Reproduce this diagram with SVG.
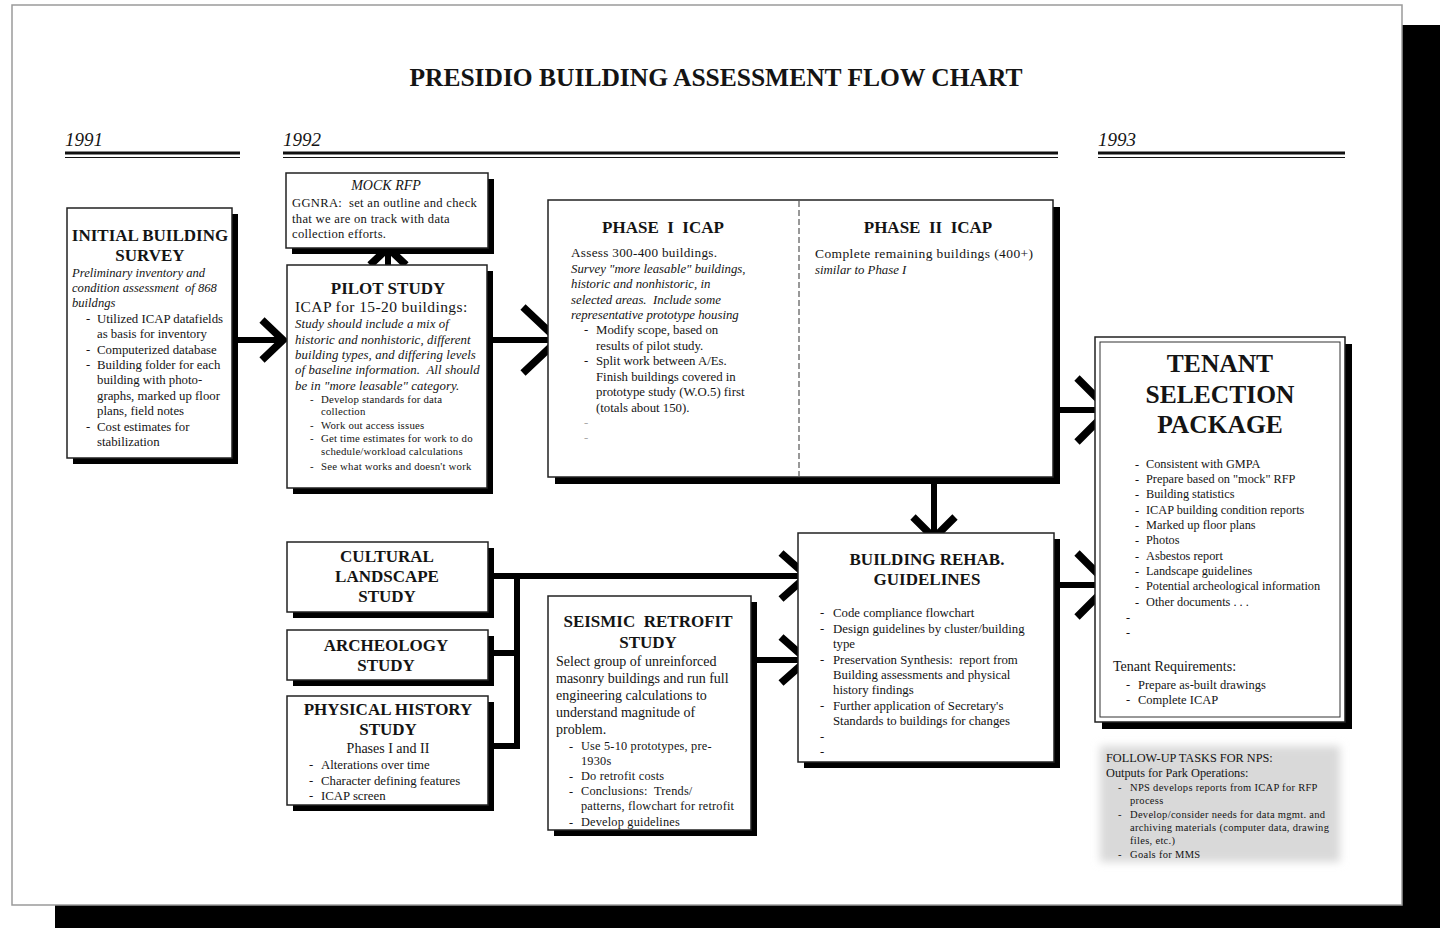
<svg xmlns="http://www.w3.org/2000/svg" width="1440" height="928" viewBox="0 0 1440 928">
<defs>
<style>
.t{font-family:"Liberation Serif","Times New Roman",serif;fill:#141414}
.b{font-weight:bold}
.i{font-style:italic}
.c{text-anchor:middle}
.sh{fill:#000}
.box{fill:#fff;stroke:#222;stroke-width:1.5}
.ln{fill:none;stroke:#000;stroke-width:6}
.chev{fill:none;stroke:#000;stroke-width:7.5;stroke-linejoin:miter;stroke-miterlimit:10}
.rule{stroke:#111}
.hd{font-size:17px;font-weight:bold}
.hs{font-size:17px;font-weight:bold}
</style>
<filter id="blur" x="-10%" y="-10%" width="120%" height="120%"><feGaussianBlur stdDeviation="4"/></filter>
</defs>
<rect x="0" y="0" width="1440" height="928" fill="#fff"/>
<rect x="55" y="25" width="1385" height="903" fill="#000"/>
<rect x="12" y="5" width="1390" height="900" fill="#fff" stroke="#9a9a9a" stroke-width="1.5"/>

<g id="title">
<text class="t b c" x="716" y="86" font-size="25.5">PRESIDIO BUILDING ASSESSMENT FLOW CHART</text>
</g>
<g id="timeline">
<text class="t i" x="65" y="146" font-size="19">1991</text>
<line class="rule" x1="65" y1="153" x2="240" y2="153" stroke-width="3"/>
<line class="rule" x1="65" y1="157.5" x2="240" y2="157.5" stroke-width="1"/>
<text class="t i" x="283" y="146" font-size="19">1992</text>
<line class="rule" x1="283" y1="153" x2="1058" y2="153" stroke-width="3"/>
<line class="rule" x1="283" y1="157.5" x2="1058" y2="157.5" stroke-width="1"/>
<text class="t i" x="1098" y="146" font-size="19">1993</text>
<line class="rule" x1="1098" y1="153" x2="1345" y2="153" stroke-width="3"/>
<line class="rule" x1="1098" y1="157.5" x2="1345" y2="157.5" stroke-width="1"/>
</g>

<g id="connectors">
<line class="ln" x1="222" y1="340" x2="282" y2="340"/>
<polyline class="chev" points="262,320 283,340 262,360"/>
<line class="ln" x1="478" y1="340" x2="556" y2="340" stroke-width="7"/>
<polyline class="chev" points="523,307 558,340 523,373" stroke-width="9"/>
<line class="ln" x1="388" y1="272" x2="388" y2="251"/>
<polyline class="chev" points="370,265 388,248 406,265"/>
<line class="ln" x1="934" y1="470" x2="934" y2="535"/>
<polyline class="chev" points="913,517 934,538 955,517"/>
<line class="ln" x1="1043" y1="410" x2="1106" y2="410" stroke-width="7"/>
<polyline class="chev" points="1077,378 1109,410 1077,442" stroke-width="9"/>
<line class="ln" x1="1043" y1="585" x2="1106" y2="585" stroke-width="7"/>
<polyline class="chev" points="1077,553 1109,585 1077,617" stroke-width="9"/>
<line class="ln" x1="483" y1="576" x2="805" y2="576"/>
<line class="ln" x1="483" y1="653" x2="517" y2="653"/>
<line class="ln" x1="483" y1="746" x2="517" y2="746"/>
<line class="ln" x1="517" y1="573" x2="517" y2="749"/>
<polyline class="chev" points="781,553 807,576 781,599"/>
<line class="ln" x1="740" y1="660" x2="805" y2="660"/>
<polyline class="chev" points="781,637 807,660 781,683"/>
</g>

<g id="initial-survey">
<rect class="sh" x="73" y="214" width="165" height="250"/>
<rect class="box" x="67" y="208" width="165" height="250"/>
<text class="t hd c" x="150" y="241">INITIAL BUILDING</text>
<text class="t hd c" x="150" y="261">SURVEY</text>
<g class="t i" font-size="12.6">
<text x="72" y="277">Preliminary inventory and</text>
<text x="72" y="292" xml:space="preserve">condition assessment  of 868</text>
<text x="72" y="307">buildngs</text>
</g>
<g class="t" font-size="12.8">
<text x="86" y="323">-</text><text x="97" y="323">Utilized ICAP datafields</text>
<text x="97" y="338">as basis for inventory</text>
<text x="86" y="354">-</text><text x="97" y="354">Computerized database</text>
<text x="86" y="369">-</text><text x="97" y="369">Building folder for each</text>
<text x="97" y="384">building with photo-</text>
<text x="97" y="400">graphs, marked up floor</text>
<text x="97" y="415">plans, field notes</text>
<text x="86" y="431">-</text><text x="97" y="431">Cost estimates for</text>
<text x="97" y="446">stabilization</text>
</g>
</g>

<g id="mock-rfp">
<rect class="sh" x="292" y="179" width="202" height="75"/>
<rect class="box" x="286" y="173" width="202" height="75"/>
<text class="t i c" x="386" y="190" font-size="14">MOCK RFP</text>
<g class="t" font-size="12.6" letter-spacing="0.3">
<text x="292" y="207" xml:space="preserve">GGNRA:  set an outline and check</text>
<text x="292" y="223">that we are on track with data</text>
<text x="292" y="238">collection efforts.</text>
</g>
</g>

<g id="pilot-study">
<rect class="sh" x="293" y="271" width="200" height="223"/>
<rect class="box" x="287" y="265" width="200" height="223"/>
<text class="t hd c" x="388" y="294">PILOT STUDY</text>
<text class="t" x="295" y="312" font-size="15.5" letter-spacing="0.4">ICAP for 15-20 buildings:</text>
<g class="t i" font-size="12.8" letter-spacing="0.1">
<text x="295" y="328">Study should include a mix of</text>
<text x="295" y="344">historic and nonhistoric, different</text>
<text x="295" y="359">building types, and differing levels</text>
<text x="295" y="374" xml:space="preserve">of baseline information.  All should</text>
<text x="295" y="390">be in "more leasable" category.</text>
</g>
<g class="t" font-size="10.8" letter-spacing="0.2">
<text x="310" y="403">-</text><text x="321" y="403">Develop standards for data</text>
<text x="321" y="415">collection</text>
<text x="310" y="429">-</text><text x="321" y="429">Work out access issues</text>
<text x="310" y="442">-</text><text x="321" y="442">Get time estimates for work to do</text>
<text x="321" y="455">schedule/workload calculations</text>
<text x="310" y="470">-</text><text x="321" y="470">See what works and doesn't work</text>
</g>
</g>

<g id="phase-icap">
<rect class="sh" x="555" y="207" width="505" height="277"/>
<rect class="box" x="548" y="200" width="505" height="277"/>
<line x1="799" y1="201" x2="799" y2="476" stroke="#333" stroke-width="1" stroke-dasharray="6,3"/>
<text class="t hd c" x="663" y="233" xml:space="preserve">PHASE  I  ICAP</text>
<text class="t" x="571" y="257" font-size="13.2" letter-spacing="0.3">Assess 300-400 buildings.</text>
<g class="t i" font-size="12.8">
<text x="571" y="273">Survey "more leasable" buildings,</text>
<text x="571" y="288">historic and nonhistoric, in</text>
<text x="571" y="304" xml:space="preserve">selected areas.  Include some</text>
<text x="571" y="319">representative prototype housing</text>
</g>
<g class="t" font-size="12.8">
<text x="584" y="334">-</text><text x="596" y="334">Modify scope, based on</text>
<text x="596" y="350">results of pilot study.</text>
<text x="584" y="365">-</text><text x="596" y="365">Split work between A/Es.</text>
<text x="596" y="381">Finish buildings covered in</text>
<text x="596" y="396">prototype study (W.O.5) first</text>
<text x="596" y="412">(totals about 150).</text>
<text x="584" y="427" fill="#aaa">-</text>
<text x="584" y="442" fill="#aaa">-</text>
</g>
<text class="t hd c" x="928" y="233" xml:space="preserve">PHASE  II  ICAP</text>
<text class="t" x="815" y="258" font-size="13.5" letter-spacing="0.4">Complete remaining buildings (400+)</text>
<text class="t i" x="815" y="274" font-size="12.8">similar to Phase I</text>
</g>

<g id="tenant-package">
<rect class="sh" x="1102" y="344" width="250" height="385"/>
<rect class="box" x="1095" y="337" width="250" height="385"/>
<rect x="1100" y="342" width="240" height="375" fill="none" stroke="#333" stroke-width="1"/>
<text class="t b c" x="1220" y="372" font-size="25.5">TENANT</text>
<text class="t b c" x="1220" y="403" font-size="25.5">SELECTION</text>
<text class="t b c" x="1220" y="433" font-size="25.5">PACKAGE</text>
<g class="t" font-size="12.3">
<text x="1135" y="468">-</text><text x="1146" y="468">Consistent with GMPA</text>
<text x="1135" y="483">-</text><text x="1146" y="483">Prepare based on "mock" RFP</text>
<text x="1135" y="498">-</text><text x="1146" y="498">Building statistics</text>
<text x="1135" y="514">-</text><text x="1146" y="514">ICAP building condition reports</text>
<text x="1135" y="529">-</text><text x="1146" y="529">Marked up floor plans</text>
<text x="1135" y="544">-</text><text x="1146" y="544">Photos</text>
<text x="1135" y="560">-</text><text x="1146" y="560">Asbestos report</text>
<text x="1135" y="575">-</text><text x="1146" y="575">Landscape guidelines</text>
<text x="1135" y="590">-</text><text x="1146" y="590">Potential archeological information</text>
<text x="1135" y="606">-</text><text x="1146" y="606">Other documents . . .</text>
<text x="1126" y="621">-</text>
<text x="1126" y="636">-</text>
</g>
<text class="t" x="1113" y="671" font-size="14">Tenant Requirements:</text>
<g class="t" font-size="12.5">
<text x="1126" y="689">-</text><text x="1138" y="689">Prepare as-built drawings</text>
<text x="1126" y="704">-</text><text x="1138" y="704">Complete ICAP</text>
</g>
</g>

<g id="cultural-landscape">
<rect class="sh" x="293" y="548" width="201" height="70"/>
<rect class="box" x="287" y="542" width="201" height="70"/>
<text class="t hs c" x="387" y="562">CULTURAL</text>
<text class="t hs c" x="387" y="582">LANDSCAPE</text>
<text class="t hs c" x="387" y="602">STUDY</text>
</g>

<g id="archeology">
<rect class="sh" x="293" y="636" width="201" height="50"/>
<rect class="box" x="287" y="630" width="201" height="50"/>
<text class="t hs c" x="386" y="651">ARCHEOLOGY</text>
<text class="t hs c" x="386" y="671">STUDY</text>
</g>

<g id="physical-history">
<rect class="sh" x="293" y="702" width="201" height="109"/>
<rect class="box" x="287" y="696" width="201" height="109"/>
<text class="t hs c" x="388" y="715">PHYSICAL HISTORY</text>
<text class="t hs c" x="388" y="735">STUDY</text>
<text class="t c" x="388" y="753" font-size="14">Phases I and II</text>
<g class="t" font-size="12.8">
<text x="309" y="769">-</text><text x="321" y="769">Alterations over time</text>
<text x="309" y="785">-</text><text x="321" y="785">Character defining features</text>
<text x="309" y="800">-</text><text x="321" y="800">ICAP screen</text>
</g>
</g>

<g id="seismic-retrofit">
<rect class="sh" x="554" y="602" width="203" height="234"/>
<rect class="box" x="548" y="596" width="203" height="234"/>
<text class="t hs c" x="648" y="627" xml:space="preserve">SEISMIC  RETROFIT</text>
<text class="t hs c" x="648" y="648">STUDY</text>
<g class="t" font-size="14">
<text x="556" y="666">Select group of unreinforced</text>
<text x="556" y="683">masonry buildings and run full</text>
<text x="556" y="700">engineering calculations to</text>
<text x="556" y="717">understand magnitude of</text>
<text x="556" y="734">problem.</text>
</g>
<g class="t" font-size="12.3" letter-spacing="0.2">
<text x="569" y="750">-</text><text x="581" y="750">Use 5-10 prototypes, pre-</text>
<text x="581" y="765">1930s</text>
<text x="569" y="780">-</text><text x="581" y="780">Do retrofit costs</text>
<text x="569" y="795">-</text><text x="581" y="795" xml:space="preserve">Conclusions:  Trends/</text>
<text x="581" y="810">patterns, flowchart for retrofit</text>
<text x="569" y="826">-</text><text x="581" y="826">Develop guidelines</text>
</g>
</g>

<g id="building-rehab">
<rect class="sh" x="804" y="539" width="256" height="229"/>
<rect class="box" x="798" y="533" width="256" height="229"/>
<text class="t hs c" x="927" y="565">BUILDING REHAB.</text>
<text class="t hs c" x="927" y="585">GUIDELINES</text>
<g class="t" font-size="12.8">
<text x="820" y="617">-</text><text x="833" y="617">Code compliance flowchart</text>
<text x="820" y="633">-</text><text x="833" y="633">Design guidelines by cluster/building</text>
<text x="833" y="648">type</text>
<text x="820" y="664">-</text><text x="833" y="664" xml:space="preserve">Preservation Synthesis:  report from</text>
<text x="833" y="679">Building assessments and physical</text>
<text x="833" y="694">history findings</text>
<text x="820" y="710">-</text><text x="833" y="710">Further application of Secretary's</text>
<text x="833" y="725">Standards to buildings for changes</text>
<text x="820" y="741">-</text>
<text x="820" y="756">-</text>
</g>
</g>

<g id="follow-up">
<rect x="1100" y="746" width="240" height="116" fill="#d9d9d9" filter="url(#blur)"/>
<g class="t" font-size="12.3">
<text x="1106" y="762">FOLLOW-UP TASKS FOR NPS:</text>
<text x="1106" y="777">Outputs for Park Operations:</text>
</g>
<g class="t" font-size="10.5" letter-spacing="0.3">
<text x="1118" y="791">-</text><text x="1130" y="791">NPS develops reports from ICAP for RFP</text>
<text x="1130" y="804">process</text>
<text x="1118" y="818">-</text><text x="1130" y="818">Develop/consider needs for data mgmt. and</text>
<text x="1130" y="831">archiving materials (computer data, drawing</text>
<text x="1130" y="844">files, etc.)</text>
<text x="1118" y="858">-</text><text x="1130" y="858">Goals for MMS</text>
</g>
</g>
</svg>
